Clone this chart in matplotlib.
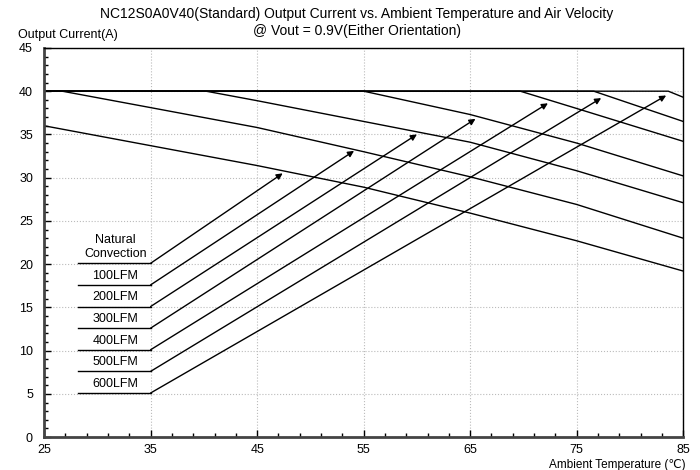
import matplotlib
matplotlib.use("Agg")
import matplotlib.pyplot as plt
from matplotlib.ticker import FixedLocator

plt.rcParams['font.family'] = ['Liberation Sans', 'DejaVu Sans']

# derating curves (ambient temp, output current)
nc_t = [25, 35, 45, 55, 65, 75, 85]
nc_i = [36.0, 33.7, 31.4, 28.9, 25.9, 22.7, 19.2]
lfm100_t = [25, 26.7, 35, 45, 55, 65, 75, 85]
lfm100_i = [40, 40, 38.1, 35.8, 33.0, 30.1, 26.9, 23.0]
lfm200_t = [25, 40.2, 45, 55, 65, 75, 85]
lfm200_i = [40, 40, 38.9, 36.5, 34.1, 30.8, 27.1]
lfm300_t = [25, 55, 65, 75, 85]
lfm300_i = [40, 40, 37.3, 34.0, 30.2]
lfm400_t = [25, 69.7, 75, 85]
lfm400_i = [40, 40, 38.0, 34.2]
lfm500_t = [25, 76.6, 85]
lfm500_i = [40, 40, 36.5]
lfm600_t = [25, 83.6, 85]
lfm600_i = [40, 40, 39.3]

curves = [(nc_t, nc_i), (lfm100_t, lfm100_i), (lfm200_t, lfm200_i),
          (lfm300_t, lfm300_i), (lfm400_t, lfm400_i), (lfm500_t, lfm500_i),
          (lfm600_t, lfm600_i)]

# legend labels, their underline level and where each arrow points
labels = ["Natural\nConvection", "100LFM", "200LFM", "300LFM", "400LFM", "500LFM", "600LFM"]
label_y = [20.1, 17.6, 15.1, 12.6, 10.1, 7.6, 5.1]
tip_t = [47.4, 54.1, 60.0, 65.5, 72.3, 77.3, 83.4]
tip_i = [30.5, 33.1, 35.0, 36.8, 38.6, 39.2, 39.5]

x_ticks = [25, 35, 45, 55, 65, 75, 85]
y_ticks = [0, 5, 10, 15, 20, 25, 30, 35, 40, 45]

fig = plt.figure(figsize=(7, 4.7), dpi=100)
ax = fig.add_axes([0.063, 0.070, 0.913, 0.828])

for t, i in curves:
    ax.plot(t, i, color='black', lw=1.0)

for lab, ly, tx, ty in zip(labels, label_y, tip_t, tip_i):
    ax.plot([28.2, 35], [ly, ly], color='black', lw=1.0)
    ax.text(31.7, ly + 0.35, lab, ha='center', va='bottom', fontsize=9, linespacing=1.25)
    ax.annotate("", xy=(tx, ty), xytext=(35, ly),
                arrowprops=dict(arrowstyle='-|>', color='black', lw=1.0,
                                mutation_scale=9, shrinkA=0, shrinkB=0))

ax.set_xlim(25, 85)
ax.set_ylim(0, 45)
ax.set_xticks(x_ticks)
ax.set_yticks(y_ticks)
ax.xaxis.set_minor_locator(FixedLocator([v for v in range(25, 86, 2)]))
ax.yaxis.set_minor_locator(FixedLocator(list(range(0, 46))))
ax.tick_params(which='major', direction='in', length=5, width=1, labelsize=9)
ax.tick_params(axis='x', which='major', pad=5)
ax.tick_params(axis='y', which='major', pad=8)
ax.tick_params(which='minor', direction='in', length=3, width=1)
ax.grid(True, which='major', color='#bbbbbb', linestyle=':', lw=0.8)

for side in ['left', 'bottom']:
    ax.spines[side].set_linewidth(2.0)
    ax.spines[side].set_color('#444444')
for side in ['top', 'right']:
    ax.spines[side].set_linewidth(1.0)

fig.text(0.51, 0.970, "NC12S0A0V40(Standard) Output Current vs. Ambient Temperature and Air Velocity",
         ha='center', va='center', fontsize=10)
fig.text(0.51, 0.934, "@ Vout = 0.9V(Either Orientation)", ha='center', va='center', fontsize=10)
fig.text(0.026, 0.925, "Output Current(A)", ha='left', va='center', fontsize=9)
fig.text(0.980, 0.011, "Ambient Temperature (\u2103)", ha='right', va='center', fontsize=8.5)

fig.savefig("out.png", dpi=100)
